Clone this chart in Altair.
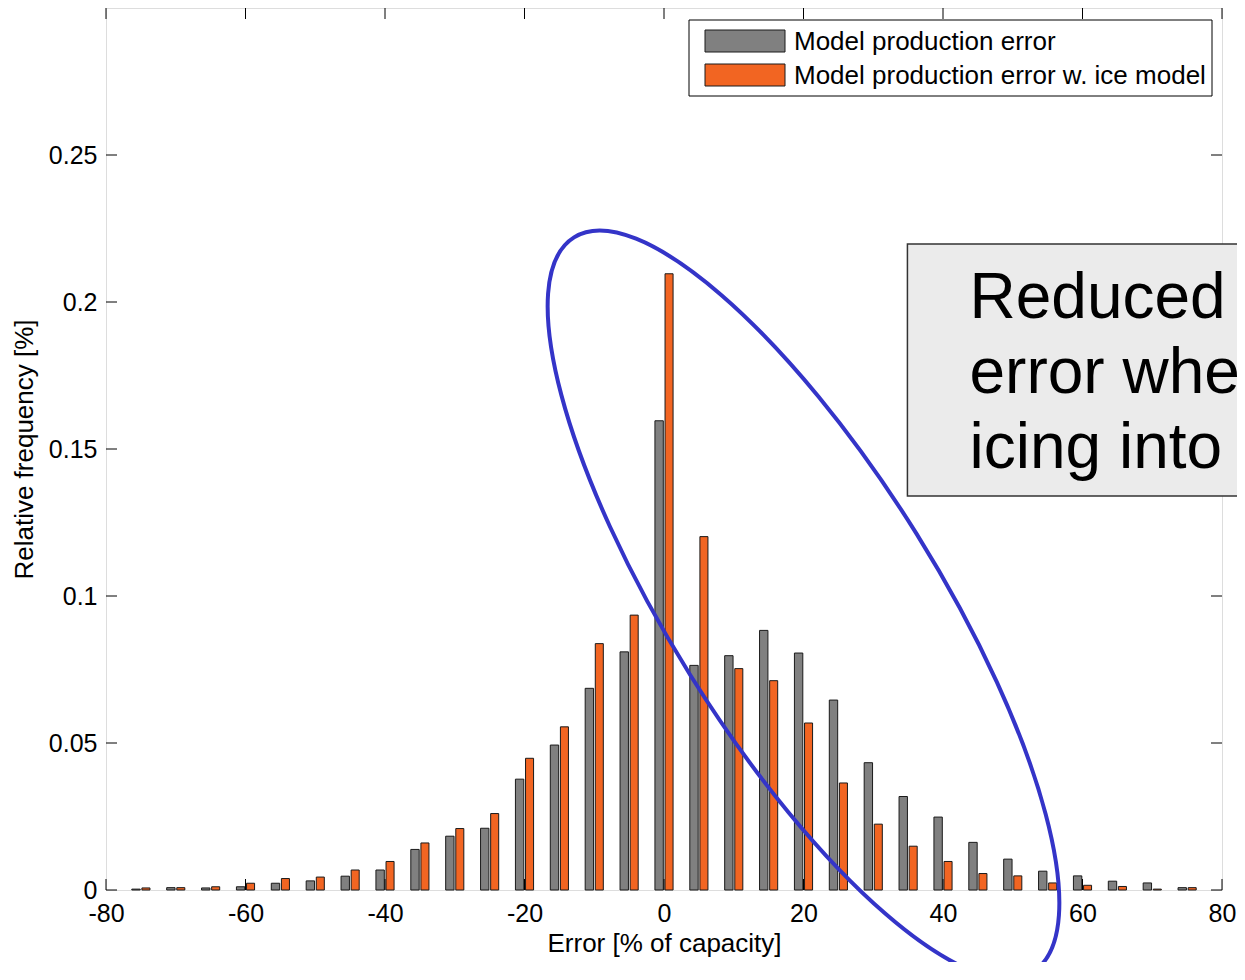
import altair as alt
import pandas as pd

# ---------------- data ----------------
bin_centers = [-75, -70, -65, -60, -55, -50, -45, -40, -35, -30, -25, -20, -15, -10, -5,
               0, 5, 10, 15, 20, 25, 30, 35, 40, 45, 50, 55, 60, 65, 70, 75]
model_error = [0.0003, 0.0008, 0.0007, 0.0011, 0.0023, 0.0031, 0.0047, 0.0068, 0.0138, 0.0183,
               0.0210, 0.0377, 0.0493, 0.0686, 0.0810, 0.1596, 0.0764, 0.0797, 0.0883, 0.0806,
               0.0646, 0.0433, 0.0318, 0.0248, 0.0162, 0.0105, 0.0064, 0.0048, 0.0030, 0.0024,
               0.0008]
model_error_ice = [0.0007, 0.0008, 0.0011, 0.0023, 0.0039, 0.0044, 0.0068, 0.0097, 0.0160, 0.0209,
                   0.0260, 0.0448, 0.0555, 0.0838, 0.0935, 0.2096, 0.1202, 0.0753, 0.0712, 0.0568,
                   0.0364, 0.0224, 0.0149, 0.0097, 0.0056, 0.0048, 0.0024, 0.0016, 0.0012, 0.0003,
                   0.0008]
series_names = ["Model production error", "Model production error w. ice model"]
series_colors = ["#808080", "#f26522"]
x_tick_values = [-80, -60, -40, -20, 0, 20, 40, 60, 80]
y_tick_values = [0, 0.05, 0.1, 0.15, 0.2, 0.25]
annotation_lines = ["Reduced", "error when", "icing into account"]

# ---------------- layout / style constants ----------------
W, H = 1116, 882
FONT = "Liberation Sans"
TICK = 11

bars_df = pd.DataFrame({
    "center": bin_centers * 2,
    "series": [series_names[0]] * len(bin_centers) + [series_names[1]] * len(bin_centers),
    "freq": model_error + model_error_ice,
})

xscale = alt.Scale(domain=[-80, 80], nice=False, zero=False)
yscale = alt.Scale(domain=[0, 0.3], nice=False)

x_axis = alt.Axis(values=x_tick_values, ticks=False, tickSize=0, domain=False, grid=False,
                  labelFontSize=25, labelPadding=11, labelFlush=False, labelOverlap=False,
                  labelExpr="toString(datum.value)", labelColor="black",
                  title="Error [% of capacity]", titleFontSize=26, titleFontWeight="normal",
                  titleBaseline="alphabetic", titleY=61, titleColor="black")
y_axis = alt.Axis(values=y_tick_values, ticks=False, tickSize=0, domain=False, grid=False,
                  labelFontSize=25, labelPadding=9, labelFlush=False, labelOverlap=False,
                  labelExpr="format(datum.value, '~g')", labelColor="black",
                  title="Relative frequency [%]", titleFontSize=26, titleFontWeight="normal",
                  titleAngle=270, titleAlign="center", titleBaseline="alphabetic",
                  titleX=-74, titleY=H / 2, titleColor="black")

bars = alt.Chart(bars_df).transform_calculate(
    x0=f"datum.center + (datum.series == '{series_names[0]}' ? -1.3 : 0.15)",
    x1=f"datum.center + (datum.series == '{series_names[0]}' ? -0.1 : 1.3)",
).mark_bar(stroke="#1a1a1a", strokeWidth=1, opacity=1).encode(
    x=alt.X("x0:Q", scale=xscale, axis=x_axis),
    x2="x1:Q",
    y=alt.Y("freq:Q", scale=yscale, axis=y_axis),
    y2=alt.Y2Datum(0),
    color=alt.Color("series:N", scale=alt.Scale(domain=series_names, range=series_colors),
                    legend=None),
)

# inward tick marks on all four sides
xt_df = pd.DataFrame({"v": x_tick_values})
yt_df = pd.DataFrame({"v": y_tick_values})
tick_style = dict(color="black", strokeWidth=1)
xt_bottom = alt.Chart(xt_df).mark_rule(**tick_style).encode(
    x=alt.X("v:Q", scale=xscale, axis=x_axis), y=alt.value(H - TICK), y2=alt.value(H))
xt_top = alt.Chart(xt_df).mark_rule(**tick_style).encode(
    x=alt.X("v:Q", scale=xscale, axis=x_axis), y=alt.value(0), y2=alt.value(TICK))
yt_left = alt.Chart(yt_df).mark_rule(**tick_style).encode(
    y=alt.Y("v:Q", scale=yscale, axis=y_axis), x=alt.value(0), x2=alt.value(TICK))
yt_right = alt.Chart(yt_df).mark_rule(**tick_style).encode(
    y=alt.Y("v:Q", scale=yscale, axis=y_axis), x=alt.value(W - TICK), x2=alt.value(W))

one = pd.DataFrame({"k": [0]})

# blue ellipse annotation (custom path shape, rotated)
ellipse_path = ("M-1,0C-1,-0.17,-0.552,-0.308,0,-0.308C0.552,-0.308,1,-0.17,1,0"
                "C1,0.17,0.552,0.308,0,0.308C-0.552,0.308,-1,0.17,-1,0Z")
ellipse = alt.Chart(one).mark_point(
    shape=ellipse_path, size=866 ** 2, angle=58, filled=False,
    stroke="#3434c8", strokeWidth=4, opacity=1,
).encode(
    x=alt.XDatum(20.0, scale=xscale, axis=x_axis),
    y=alt.YDatum(0.0971, scale=yscale, axis=y_axis),
)

# text box annotation (runs off the right edge, as in the original slide)
box = alt.Chart(one).mark_rect(fill="#ebebeb", stroke="#333333", strokeWidth=1.5).encode(
    x=alt.XDatum(34.9, scale=xscale, axis=x_axis),
    x2=alt.X2Datum(95),
    y=alt.YDatum(0.2197, scale=yscale, axis=y_axis),
    y2=alt.Y2Datum(0.134),
)
box_text = alt.Chart(one).mark_text(
    align="left", baseline="alphabetic", font=FONT, fontSize=64, lineHeight=75, color="black",
).encode(
    x=alt.XDatum(43.8, scale=xscale, axis=x_axis),
    y=alt.YDatum(0.1946, scale=yscale, axis=y_axis),
    text=alt.value(annotation_lines),
)

# legend (drawn manually, top-right inside the axes)
leg_frame = alt.Chart(one).mark_rect(fill="white", stroke="black", strokeWidth=1).encode(
    x=alt.value(W - 533), x2=alt.value(W - 10), y=alt.value(12), y2=alt.value(88))
leg_layers = [leg_frame]
for i, (name, col) in enumerate(zip(series_names, series_colors)):
    ldf = pd.DataFrame({"label": [name]})
    yc = 33 + 34 * i
    leg_layers.append(alt.Chart(ldf).mark_rect(fill=col, stroke="#1a1a1a", strokeWidth=1).encode(
        x=alt.value(W - 517), x2=alt.value(W - 437), y=alt.value(yc - 11), y2=alt.value(yc + 11)))
    leg_layers.append(alt.Chart(ldf).mark_text(
        align="left", baseline="middle", font=FONT, fontSize=26, color="black").encode(
        x=alt.value(W - 428), y=alt.value(yc + 1), text="label:N"))

chart = alt.layer(
    bars, xt_bottom, xt_top, yt_left, yt_right, box, box_text, ellipse, *leg_layers
).properties(
    width=W, height=H,
    autosize=alt.AutoSizeParams(type="none"),
    padding={"left": 98, "top": 0, "right": 15, "bottom": 72},
    background="white",
).configure_view(
    stroke="black", strokeWidth=1.2,
).configure(
    font=FONT,
)

chart.save("out.html", embed_options={"renderer": "svg", "actions": False})
